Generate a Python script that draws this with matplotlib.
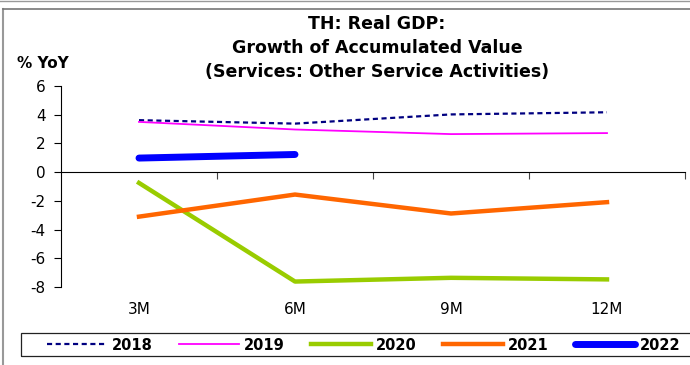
import matplotlib
matplotlib.use("Agg")
from matplotlib import pyplot as plt
from matplotlib.lines import Line2D
from matplotlib.patches import Rectangle

plt.rcParams['font.family'] = ['DejaVu Sans']
plt.rcParams['axes.unicode_minus'] = False

periods = ["3M", "6M", "9M", "12M"]
y2018 = [3.62, 3.38, 4.02, 4.17]
y2019 = [3.5, 2.97, 2.65, 2.72]
y2020 = [-0.75, -7.62, -7.36, -7.47]
y2021 = [-3.1, -1.56, -2.88, -2.09]
y2022 = [0.98, 1.23]

fig = plt.figure(figsize=(6.9, 3.65), dpi=100)
ax = fig.add_axes([61 / 690, 1 - 287 / 365, 624 / 690, 201 / 365])

x = list(range(len(periods)))
ax.plot(x, y2018, color="#000080", lw=1.6, ls=(0, (2.3, 1.6)), label="2018")
ax.plot(x, y2019, color="#FF00FF", lw=1.3, label="2019")
ax.plot(x, y2020, color="#99CC00", lw=3.2, label="2020")
ax.plot(x, y2021, color="#FF6600", lw=3.2, label="2021")
ax.plot(x[:len(y2022)], y2022, color="#0000FF", lw=5, solid_capstyle="round", label="2022")

ax.set_xlim(-0.5, len(periods) - 0.5)
ax.set_ylim(-8, 6)
ax.set_yticks(range(-8, 7, 2))
ax.tick_params(axis="y", labelsize=11, length=5, pad=6, width=0.8)

# x axis line sits at zero, ticks at category borders
ax.spines["top"].set_visible(False)
ax.spines["right"].set_visible(False)
ax.spines["bottom"].set_position(("data", 0))
ax.spines["bottom"].set_linewidth(0.8)
ax.spines["left"].set_linewidth(0.8)
ax.set_xticks([i + 0.5 for i in x])
ax.set_xticklabels([])
ax.tick_params(axis="x", length=5, width=0.8, color="#444444")

sec = ax.secondary_xaxis(0.0)
sec.spines["bottom"].set_visible(False)
sec.set_xticks(x)
sec.set_xticklabels(periods)
sec.tick_params(axis="x", length=0, pad=11, labelsize=11)

fig.text(377 / 690, 1 - 48 / 365,
         "TH: Real GDP:\nGrowth of Accumulated Value\n(Services: Other Service Activities)",
         ha="center", va="center", fontsize=12.5, fontweight="bold", linespacing=1.4)
fig.text(17 / 690, 1 - 63 / 365, "% YoY", ha="left", va="center", fontsize=11, fontweight="bold")

leg = fig.legend(loc="center", bbox_to_anchor=(364 / 690, 1 - 345 / 365), ncol=5,
                 frameon=False, prop={"weight": "bold", "size": 10.5},
                 handlelength=4.1, handletextpad=0.35, columnspacing=1.8)

fig.patches.append(Rectangle((21 / 690, 1 - 356 / 365), 680 / 690, 23 / 365,
                             transform=fig.transFigure, fill=False, ec="#222222", lw=0.9))
fig.lines.append(Line2D([3 / 690, 3 / 690], [0, 1 - 9 / 365], transform=fig.transFigure,
                        color="#999999", lw=1.5))
fig.lines.append(Line2D([3 / 690, 1], [1 - 9 / 365, 1 - 9 / 365], transform=fig.transFigure,
                        color="#777777", lw=1.2))
fig.lines.append(Line2D([0, 1], [1 - 1 / 365, 1 - 1 / 365], transform=fig.transFigure,
                        color="#999999", lw=1.0))

fig.savefig("out.png", dpi=100)
